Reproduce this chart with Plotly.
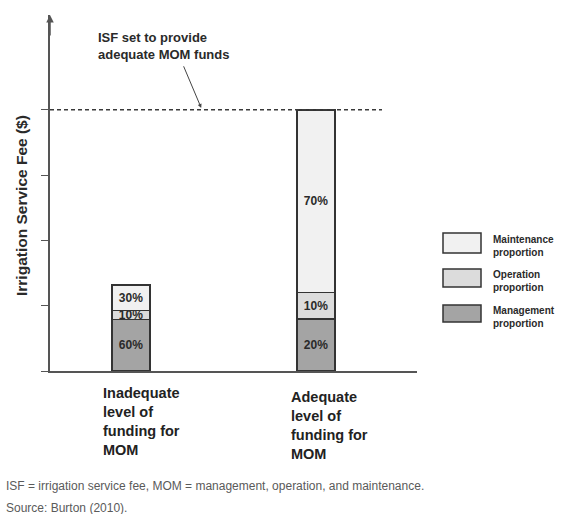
import plotly.graph_objects as go

# --- data -------------------------------------------------------------
categories = [
    "Inadequate<br>level of<br>funding for<br>MOM",
    "Adequate<br>level of<br>funding for<br>MOM",
]
category_pos = [0, 1]
total_fee = [1.32, 4.0]          # irrigation service fee, arbitrary $ units
isf_target = 4.0                 # ISF needed for adequate MOM funds
series_names = [
    "Management<br>proportion",
    "Operation<br>proportion",
    "Maintenance<br>proportion",
]
management_pct = [60, 20]
operation_pct = [10, 10]
maintenance_pct = [30, 70]
series_pct = [management_pct, operation_pct, maintenance_pct]
series_colors = ["#a4a4a4", "#dcdcdc", "#f1f1f1"]
y_ticks = [0, 1, 2, 3, 4]

# --- page geometry ----------------------------------------------------
W, H = 562, 514
ML, MR, MT, MB = 50, 145, 15, 143
PW, PH = W - ML - MR, H - MT - MB


def px_x(p):
    return (p - ML) / PW


def px_y(p):
    return (H - MB - p) / PH


BOLD = "Liberation Sans"
fig = go.Figure()

for name, pct, color in zip(series_names, series_pct, series_colors):
    fig.add_trace(go.Bar(
        x=category_pos,
        y=[t * p / 100 for t, p in zip(total_fee, pct)],
        name=name,
        width=0.205,
        marker=dict(color=color, line=dict(color="#333333", width=1.5)),
        text=[f"{p}%" for p in pct],
        textposition="inside",
        insidetextanchor="middle",
        textangle=0,
        textfont=dict(family=BOLD, size=12, color="#2a2a2a", weight="bold"),
        showlegend=False,
        hoverinfo="skip",
    ))

# target ISF level (dashed)
fig.add_shape(type="line", xref="paper", yref="y",
              x0=0, x1=px_x(382), y0=isf_target, y1=isf_target,
              line=dict(color="#3a3a3a", width=1.6, dash="4px,3px"))

annotations = []
# arrow on top of y axis
annotations.append(dict(xref="paper", yref="paper", x=0, y=1, text="",
                        showarrow=True, ax=0, ay=22, arrowhead=2,
                        arrowsize=1, arrowwidth=1.5, arrowcolor="#555555"))
# note with pointer to the dashed line
annotations.append(dict(xref="paper", yref="paper", x=px_x(96), y=px_y(46),
                        xanchor="left", yanchor="middle", align="left",
                        text="ISF set to provide<br>adequate MOM funds",
                        showarrow=False,
                        font=dict(family=BOLD, size=13, color="#2a2a2a",
                                  weight="bold")))
annotations.append(dict(xref="paper", yref="y", x=px_x(202), y=isf_target,
                        text="", showarrow=True, ax=-19, ay=-45,
                        arrowhead=2, arrowsize=0.8, arrowwidth=1,
                        arrowcolor="#444444", standoff=2))
# y axis title
annotations.append(dict(xref="paper", yref="paper", x=px_x(22), y=px_y(206),
                        text="Irrigation Service Fee ($)", textangle=-90,
                        showarrow=False, xanchor="center", yanchor="middle",
                        font=dict(family=BOLD, size=15.5, color="#2a2a2a",
                                  weight="bold")))
# category labels, left aligned under each bar
for pos, label, shift, top in zip(category_pos, categories, [-30, -27], [383, 387]):
    annotations.append(dict(xref="x", yref="paper", x=pos, y=px_y(top),
                            xshift=shift, xanchor="left", yanchor="top",
                            align="left", text=label, showarrow=False,
                            font=dict(family=BOLD, size=14.5, color="#222222",
                                      weight="bold")))

# legend (boxes + labels), maintenance on top
legend_rows = [(233, 253), (269, 287), (305, 322)]
for (y0, y1), name, color in zip(legend_rows, series_names[::-1], series_colors[::-1]):
    fig.add_shape(type="rect", xref="paper", yref="paper",
                  x0=px_x(443), x1=px_x(481), y0=px_y(y1), y1=px_y(y0),
                  fillcolor=color, line=dict(color="#333333", width=1.5))
    annotations.append(dict(xref="paper", yref="paper", x=px_x(491),
                            y=px_y((y0 + y1) / 2 + 3), xanchor="left",
                            yanchor="middle", align="left", text=name,
                            showarrow=False,
                            font=dict(family=BOLD, size=10, color="#2a2a2a",
                                      weight="bold")))

# footnotes
annotations.append(dict(xref="paper", yref="paper", x=px_x(4), y=px_y(486),
                        xanchor="left", yanchor="middle", showarrow=False,
                        text="ISF = irrigation service fee, MOM = management, "
                             "operation, and maintenance.",
                        font=dict(family="Liberation Sans", size=12,
                                  color="#5a5a5a")))
annotations.append(dict(xref="paper", yref="paper", x=px_x(4), y=px_y(508),
                        xanchor="left", yanchor="middle", showarrow=False,
                        text="Source: Burton (2010).",
                        font=dict(family="Liberation Sans", size=12,
                                  color="#5a5a5a")))

fig.update_layout(
    width=W, height=H,
    margin=dict(l=ML, r=MR, t=MT, b=MB, pad=0),
    paper_bgcolor="white", plot_bgcolor="white",
    barmode="stack",
    uniformtext=dict(minsize=12, mode="show"),
    annotations=annotations,
    showlegend=False,
    xaxis=dict(range=[-81 / 185, 286 / 185], showgrid=False, zeroline=False,
               showline=True, linecolor="#555555", linewidth=1.5,
               ticks="", showticklabels=False, fixedrange=True),
    yaxis=dict(range=[0, PH / 65.3], showgrid=False, zeroline=False,
               showline=True, linecolor="#555555", linewidth=1.5,
               tickvals=y_ticks, ticks="outside", ticklen=7,
               tickcolor="#555555", tickwidth=1.2,
               showticklabels=False, fixedrange=True),
)

fig.write_html("out.html", config={"displayModeBar": False})
